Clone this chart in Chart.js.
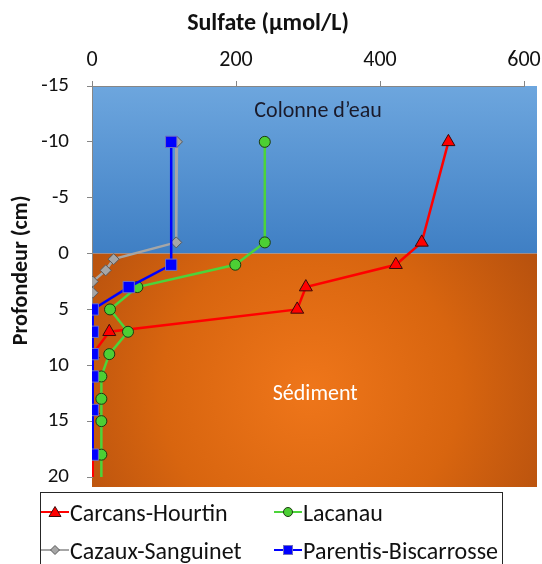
<!DOCTYPE html>
<html>
<head>
<meta charset="utf-8">
<script src="https://cdn.jsdelivr.net/npm/chart.js@4.4.0/dist/chart.umd.min.js"></script>
<style>
  body { margin: 0; background: #fff; }
  #wrap { position: relative; width: 542px; height: 564px; overflow: hidden; font-family: Carlito, Calibri, Lato, sans-serif; }
  #legend { position: absolute; left: 40px; top: 492px; width: 463px; height: 90px; border: 1.5px solid #262626; box-sizing: border-box; }
  .item { position: absolute; display: flex; align-items: center; height: 30px; font-size: 24px; color: #111; white-space: nowrap; }
  .item svg { display: block; margin-right: 1px; }
</style>
</head>
<body>
<div id="wrap">
  <canvas id="profileChart" width="542" height="564"></canvas>
  <div id="legend"></div>
</div>
<script>
const FONT = 'Carlito, Calibri, Lato, sans-serif';

// depth (cm) and sulfate (µmol/L) per lake
const depthCarcans = [-10, -1, 1, 3, 5, 7, 9, 11, 14, 18, 21];
const sulfateCarcans = [495, 458, 422, 297, 285, 24, 1, 1, 1, 1, 1];
const depthLacanau = [-10, -1, 1, 3, 5, 7, 9, 11, 13, 15, 18, 21];
const sulfateLacanau = [240, 240, 199, 63, 25, 50, 24, 13, 13, 13, 13, 13];
const depthCazaux = [-10, -1, 0.5, 1.5, 2.5, 3.5];
const sulfateCazaux = [118, 117, 30, 19, 1, 1];
const depthParentis = [-10, 1, 3, 5, 7, 9, 11, 14, 18];
const sulfateParentis = [110, 110, 51, 1, 1, 1, 1, 1, 1];

const sulfateTicks = [0, 200, 400, 600];
const depthTicks = [-15, -10, -5, 0, 5, 10, 15, 20];
const lakeNames = ['Carcans-Hourtin', 'Lacanau', 'Cazaux-Sanguinet', 'Parentis-Biscarrosse'];

function toPoints(depths, values) {
  return depths.map((d, i) => ({ x: values[i], y: d }));
}

// water column / sediment backdrop, a bit wider than the axes like the original
const zonesPlugin = {
  id: 'zones',
  beforeDraw(chart) {
    const { ctx, chartArea: a, scales } = chart;
    const y0 = scales.y.getPixelForValue(0);
    const right = a.right + 13;
    const bottom = a.bottom + 10;

    let g = ctx.createLinearGradient(0, a.top, 0, y0);
    g.addColorStop(0, '#6da6de');
    g.addColorStop(1, '#3f7fc4');
    ctx.save();
    ctx.fillStyle = g;
    ctx.fillRect(a.left, a.top, right - a.left, y0 - a.top);

    g = ctx.createRadialGradient(310, 390, 0, 310, 390, 270);
    g.addColorStop(0, '#ef761a');
    g.addColorStop(0.55, '#d8650f');
    g.addColorStop(1, '#b5500e');
    ctx.fillStyle = g;
    ctx.fillRect(a.left, y0, right - a.left, bottom - y0);

    ctx.font = '22px ' + FONT;
    ctx.textAlign = 'center';
    ctx.textBaseline = 'middle';
    ctx.fillStyle = '#1a1a2a';
    ctx.fillText('Colonne d\u2019eau', scales.x.getPixelForValue(314), scales.y.getPixelForValue(-12.7));
    ctx.fillStyle = '#ffffff';
    ctx.fillText('Sédiment', scales.x.getPixelForValue(310), scales.y.getPixelForValue(12.6));
    ctx.restore();
  },
  afterDraw(chart) {
    // y axis title sits a little above the middle of the axis in the original
    const { ctx, scales } = chart;
    ctx.save();
    ctx.translate(21, scales.y.getPixelForValue(1.5));
    ctx.rotate(-Math.PI / 2);
    ctx.font = 'bold 22px ' + FONT;
    ctx.fillStyle = '#111';
    ctx.textAlign = 'center';
    ctx.textBaseline = 'middle';
    ctx.fillText('Profondeur (cm)', 0, 0);
    ctx.restore();
  }
};

const ctx = document.getElementById('profileChart');

new Chart(ctx, {
  type: 'line',
  data: {
    datasets: [{
      label: lakeNames[0],
      data: toPoints(depthCarcans, sulfateCarcans),
      borderColor: '#ff0000',
      backgroundColor: '#ff0000',
      pointStyle: 'triangle',
      pointRadius: 7.5,
      pointBorderColor: '#3a0a0a',
      order: 3
    }, {
      label: lakeNames[1],
      data: toPoints(depthLacanau, sulfateLacanau),
      borderColor: '#4cd43a',
      backgroundColor: '#4ccf34',
      pointStyle: 'circle',
      pointRadius: 5.5,
      pointBorderColor: '#1d3a12',
      order: 2
    }, {
      label: lakeNames[2],
      data: toPoints(depthCazaux, sulfateCazaux),
      borderColor: '#a6a6a6',
      backgroundColor: '#a6a6a6',
      pointStyle: 'rectRot',
      pointRadius: 5.5,
      pointBorderColor: '#5a5a5a',
      order: 1
    }, {
      label: lakeNames[3],
      data: toPoints(depthParentis, sulfateParentis),
      borderColor: '#0000ff',
      backgroundColor: '#0000ff',
      pointStyle: 'rect',
      pointRadius: 8,
      pointBorderColor: '#7070c0',
      order: 0
    }]
  },
  options: {
    responsive: false,
    animation: false,
    elements: {
      line: { borderWidth: 2.5, tension: 0 },
      point: { borderWidth: 1 }
    },
    layout: { padding: { left: 0, right: 6, top: 0, bottom: 87 } },
    plugins: {
      legend: { display: false },
      tooltip: { enabled: false },
      title: {
        display: true,
        text: 'Sulfate (µmol/L)',
        color: '#111',
        font: { family: FONT, size: 24, weight: 'bold' },
        padding: { top: 10, bottom: 1 }
      }
    },
    scales: {
      x: {
        type: 'linear',
        position: 'top',
        min: 0,
        max: 600,
        afterBuildTicks: s => { s.ticks = sulfateTicks.map(v => ({ value: v })); },
        afterFit: s => { s.height = 46.2; s.paddingLeft = 0; s.paddingRight = 18; },
        grid: { drawOnChartArea: false, tickLength: 5, color: '#868686' },
        border: { color: '#868686' },
        ticks: { color: '#111', font: { family: FONT, size: 22 }, padding: 7 }
      },
      y: {
        type: 'linear',
        reverse: true,
        min: -15,
        max: 20,
        afterBuildTicks: s => { s.ticks = depthTicks.map(v => ({ value: v })); },
        afterFit: s => { s.width = 92; s.paddingTop = 0; s.paddingBottom = 0; },
        grid: { drawOnChartArea: false, tickLength: 5, color: '#868686' },
        border: { color: '#868686' },
        ticks: { color: '#111', font: { family: FONT, size: 21 }, padding: 18 }
      }
    }
  },
  plugins: [zonesPlugin]
});

// legend: line through marker, two columns, like the original
const icons = [
  '<polygon points="14,2.5 20,12.5 8,12.5" fill="#ff0000" stroke="#3a0a0a" stroke-width="1"/>',
  '<circle cx="14" cy="8" r="4.5" fill="#4ccf34" stroke="#1d3a12" stroke-width="1"/>',
  '<polygon points="14,3.5 18.5,8 14,12.5 9.5,8" fill="#a6a6a6" stroke="#5a5a5a" stroke-width="1"/>',
  '<rect x="9.5" y="3.5" width="9" height="9" fill="#0000ff" stroke="#7070c0" stroke-width="1"/>'
];
const lineColors = ['#ff0000', '#4cd43a', '#a6a6a6', '#0000ff'];
const spots = [[0, 4], [233, 4], [0, 42], [233, 42]];
const legend = document.getElementById('legend');
lakeNames.forEach((name, i) => {
  const el = document.createElement('div');
  el.className = 'item';
  el.style.left = spots[i][0] + 'px';
  el.style.top = spots[i][1] + 'px';
  el.innerHTML = '<svg width="28" height="16"><line x1="0" y1="8" x2="28" y2="8" stroke="' + lineColors[i] +
    '" stroke-width="2"/>' + icons[i] + '</svg><span>' + name + '</span>';
  legend.appendChild(el);
});
</script>
</body>
</html>
